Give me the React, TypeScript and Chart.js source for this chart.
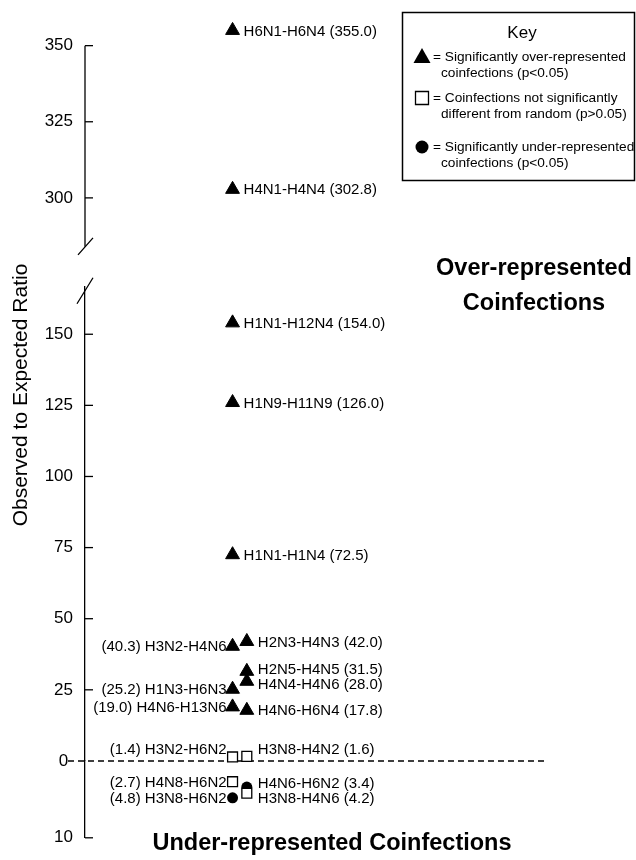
import React, { useEffect, useRef } from "react";
import { Chart, registerables } from "chart.js";

Chart.register(...registerables);

const FONT = '"Liberation Sans", Arial, Helvetica, sans-serif';

// ---- Axis ticks ----
const TOP_TICKS = [300, 325, 350];
const MID_TICKS = [0, 25, 50, 75, 100, 125, 150];
const BOTTOM_TICKS = [10];

// ---- Significantly over-represented coinfections (triangles) ----
const OVER_NAMES = [
  "H6N1-H6N4", "H4N1-H4N4", "H1N1-H12N4", "H1N9-H11N9", "H1N1-H1N4",
  "H3N2-H4N6", "H2N3-H4N3", "H2N5-H4N5", "H4N4-H4N6", "H1N3-H6N3",
  "H4N6-H13N6", "H4N6-H6N4",
];
const OVER_RATIOS = [355.0, 302.8, 154.0, 126.0, 72.5, 40.3, 42.0, 31.5, 28.0, 25.2, 19.0, 17.8];
const OVER_COLUMNS = [0, 0, 0, 0, 0, 0, 1, 1, 1, 0, 0, 1];
const OVER_SIDES = ["right", "right", "right", "right", "right", "left", "right", "right", "right", "left", "left", "right"];

// ---- Not significantly different from random (squares) ----
const NOT_SIG_NAMES = ["H3N2-H6N2", "H3N8-H4N2", "H4N8-H6N2", "H3N8-H4N6"];
const NOT_SIG_RATIOS = [1.4, 1.6, 2.7, 4.2];
const NOT_SIG_DIRECTION = ["over", "over", "under", "under"];
const NOT_SIG_COLUMNS = [0, 1, 0, 1];

// ---- Significantly under-represented coinfections (circles) ----
const UNDER_NAMES = ["H4N6-H6N2", "H3N8-H6N2"];
const UNDER_RATIOS = [3.4, 4.8];
const UNDER_COLUMNS = [1, 0];

const BREAK_AT = 200;
const TOP_AXIS_END = 350;

type Pt = { x: number; y: number; name: string; side: string };

function pts(names: string[], ratios: number[], cols: number[], sides: string[] | null, keep: (i: number) => boolean): Pt[] {
  const out: Pt[] = [];
  names.forEach((n, i) => {
    if (!keep(i)) return;
    out.push({ x: cols[i], y: ratios[i], name: n, side: sides ? sides[i] : cols[i] === 0 ? "left" : "right" });
  });
  return out;
}

const setTicks = (vals: number[]) => (scale: any) => {
  scale.ticks = vals.map((v) => ({ value: v }));
};

const AXIS_W = 85;

const decorPlugin = {
  id: "decor",
  beforeDatasetsDraw(chart: any) {
    const ctx = chart.ctx;
    const mid = chart.scales.yMid;
    const y0 = mid.getPixelForValue(0);
    ctx.save();
    ctx.strokeStyle = "#000";
    ctx.lineWidth = 1.4;
    ctx.setLineDash([6, 4]);
    ctx.beginPath();
    ctx.moveTo(mid.right - 17, y0);
    ctx.lineTo(547, y0);
    ctx.stroke();
    ctx.restore();
  },
  afterDraw(chart: any) {
    const ctx = chart.ctx;
    const { yTop, yMid, yBot } = chart.scales;
    const ax = yMid.right;
    ctx.save();
    ctx.strokeStyle = "#000";
    ctx.lineWidth = 1.3;
    // upper axis segment (ends at its top tick)
    ctx.beginPath();
    ctx.moveTo(ax, yTop.getPixelForValue(TOP_AXIS_END));
    ctx.lineTo(ax, yTop.bottom);
    ctx.stroke();
    // inner tick marks
    const drawTicks = (scale: any, vals: number[]) => {
      vals.forEach((v) => {
        if (scale === yMid && v === 0) return;
        const y = scale.getPixelForValue(v);
        ctx.beginPath();
        ctx.moveTo(ax, y);
        ctx.lineTo(ax + 8, y);
        ctx.stroke();
      });
    };
    drawTicks(yTop, TOP_TICKS);
    drawTicks(yMid, MID_TICKS);
    drawTicks(yBot, BOTTOM_TICKS);
    // axis break slashes
    ctx.beginPath();
    ctx.moveTo(ax - 7, yTop.bottom + 8);
    ctx.lineTo(ax + 8, yTop.bottom - 9);
    ctx.moveTo(ax - 8, yMid.top + 17);
    ctx.lineTo(ax + 8, yMid.top - 9);
    ctx.stroke();

    // y axis title
    ctx.fillStyle = "#000";
    ctx.save();
    ctx.translate(21, 395);
    ctx.rotate(-Math.PI / 2);
    ctx.font = `21px ${FONT}`;
    ctx.textAlign = "center";
    ctx.textBaseline = "middle";
    ctx.fillText("Observed to Expected Ratio", 0, 0);
    ctx.restore();

    // region titles
    ctx.font = `bold 23.5px ${FONT}`;
    ctx.textBaseline = "alphabetic";
    ctx.textAlign = "center";
    ctx.fillText("Over-represented", 534, 275);
    ctx.fillText("Coinfections", 534, 310);
    ctx.fillText("Under-represented Coinfections", 332, 850);

    // key
    ctx.lineWidth = 1.5;
    ctx.strokeRect(402.5, 12.5, 232, 168);
    ctx.font = `17px ${FONT}`;
    ctx.textAlign = "center";
    ctx.textBaseline = "middle";
    ctx.fillText("Key", 522, 33);
    const items = [
      { style: "triangle", y: 57, lines: ["= Significantly over-represented", "coinfections (p<0.05)"] },
      { style: "rect", y: 98, lines: ["= Coinfections not significantly", "different from random (p>0.05)"] },
      { style: "circle", y: 147, lines: ["= Significantly under-represented", "coinfections (p<0.05)"] },
    ];
    items.forEach((it) => {
      const cx = 422;
      ctx.beginPath();
      if (it.style === "triangle") {
        ctx.moveTo(cx, it.y - 9);
        ctx.lineTo(cx - 8.5, it.y + 6);
        ctx.lineTo(cx + 8.5, it.y + 6);
        ctx.closePath();
        ctx.fillStyle = "#000";
        ctx.fill();
      } else if (it.style === "rect") {
        ctx.fillStyle = "#fff";
        ctx.rect(cx - 6.5, it.y - 6.5, 13, 13);
        ctx.fill();
        ctx.lineWidth = 1.3;
        ctx.stroke();
      } else {
        ctx.arc(cx, it.y, 6.5, 0, Math.PI * 2);
        ctx.fillStyle = "#000";
        ctx.fill();
      }
      ctx.fillStyle = "#000";
      ctx.font = `13.7px ${FONT}`;
      ctx.textAlign = "left";
      ctx.fillText(it.lines[0], 433, it.y);
      ctx.fillText(it.lines[1], 441, it.y + 16);
    });
    ctx.restore();
  },
  afterDatasetsDraw(chart: any) {
    const ctx = chart.ctx;
    const y0 = chart.scales.yMid.getPixelForValue(0);
    type Lab = { x: number; y: number; text: string; align: string; lo: number; hi: number };
    const groups: Record<string, Lab[]> = {};
    chart.data.datasets.forEach((ds: any, i: number) => {
      const meta = chart.getDatasetMeta(i);
      const below = ds.yAxisID === "yBot";
      meta.data.forEach((el: any, j: number) => {
        const d = ds.data[j] as Pt;
        const val = d.y.toFixed(1);
        const lo = below ? y0 + 11 : -Infinity;
        const hi = below ? Infinity : y0 - 11;
        const lab: Lab =
          d.side === "right"
            ? { x: el.x + 11, y: el.y + 1, text: `${d.name} (${val})`, align: "left", lo, hi }
            : { x: el.x - 6, y: el.y + 1, text: `(${val}) ${d.name}`, align: "right", lo, hi };
        lab.y = Math.min(Math.max(lab.y, lab.lo), lab.hi);
        const key = lab.align + Math.round(lab.x);
        (groups[key] = groups[key] || []).push(lab);
      });
    });
    // keep neighbouring labels in a column from overlapping (and off the zero line)
    const MIN_GAP = 15;
    Object.values(groups).forEach((g) => {
      g.sort((a, b) => a.y - b.y);
      for (let it = 0; it < 40; it++) {
        let moved = false;
        for (let k = 1; k < g.length; k++) {
          const gap = g[k].y - g[k - 1].y;
          if (gap < MIN_GAP - 0.01) {
            const push = (MIN_GAP - gap) / 2;
            g[k - 1].y = Math.min(Math.max(g[k - 1].y - push, g[k - 1].lo), g[k - 1].hi);
            g[k].y = Math.min(Math.max(g[k].y + push, g[k].lo), g[k].hi);
            moved = true;
          }
        }
        if (!moved) break;
      }
    });
    ctx.save();
    ctx.font = `15px ${FONT}`;
    ctx.fillStyle = "#000";
    ctx.textBaseline = "middle";
    Object.values(groups).forEach((g) =>
      g.forEach((l) => {
        ctx.textAlign = l.align as CanvasTextAlign;
        ctx.fillText(l.text, l.x, l.y);
      })
    );
    ctx.restore();
  },
};

export default function App() {
  const ref = useRef<HTMLCanvasElement | null>(null);

  useEffect(() => {
    document.body.style.margin = "0";
    if (!ref.current) return;

    const yCommon = (weight: number, stackWeight: number, border = true) => ({
      type: "linear" as const,
      position: "left" as const,
      stack: "y",
      stackWeight,
      weight,
      grid: { display: false, drawTicks: false },
      border: { display: border, color: "#000", width: 1.3 },
      ticks: {
        padding: 12,
        color: "#000",
        font: { family: FONT, size: 17 },
        callback: (v: any) => (v === 0 ? "0 " : String(v)),
      },
      afterFit: (s: any) => {
        s.width = AXIS_W;
      },
    });

    const triangle = {
      pointStyle: "triangle",
      pointRadius: 8,
      pointHoverRadius: 8,
      backgroundColor: "#000",
      borderColor: "#000",
      borderWidth: 1,
      showLine: false,
      clip: false as any,
    };
    const square = {
      pointStyle: "rect",
      pointRadius: 7,
      pointHoverRadius: 7,
      backgroundColor: "#fff",
      borderColor: "#000",
      borderWidth: 1.3,
      showLine: false,
      clip: false as any,
    };
    const circle = {
      pointStyle: "circle",
      pointRadius: 5.5,
      pointHoverRadius: 5.5,
      backgroundColor: "#000",
      borderColor: "#000",
      borderWidth: 0,
      showLine: false,
      clip: false as any,
    };

    const chart = new Chart(ref.current, {
      type: "scatter",
      data: {
        datasets: [
          { ...triangle, yAxisID: "yTop", data: pts(OVER_NAMES, OVER_RATIOS, OVER_COLUMNS, OVER_SIDES, (i) => OVER_RATIOS[i] > BREAK_AT) },
          { ...triangle, yAxisID: "yMid", data: pts(OVER_NAMES, OVER_RATIOS, OVER_COLUMNS, OVER_SIDES, (i) => OVER_RATIOS[i] <= BREAK_AT) },
          { ...square, yAxisID: "yMid", data: pts(NOT_SIG_NAMES, NOT_SIG_RATIOS, NOT_SIG_COLUMNS, null, (i) => NOT_SIG_DIRECTION[i] === "over") },
          { ...square, yAxisID: "yBot", data: pts(NOT_SIG_NAMES, NOT_SIG_RATIOS, NOT_SIG_COLUMNS, null, (i) => NOT_SIG_DIRECTION[i] === "under") },
          { ...circle, yAxisID: "yBot", data: pts(UNDER_NAMES, UNDER_RATIOS, UNDER_COLUMNS, null, () => true) },
        ] as any,
      },
      options: {
        responsive: false,
        animation: false,
        events: [],
        layout: { padding: { top: 22, bottom: 21, left: 0, right: 0 } },
        plugins: { legend: { display: false }, tooltip: { enabled: false } },
        scales: {
          x: { type: "linear", display: false, min: -10.345, max: 27.655 },
          yTop: { ...yCommon(4, 225, false), min: 283.93, max: 357.7, afterBuildTicks: setTicks(TOP_TICKS) },
          yGap: { type: "linear", position: "left", stack: "y", stackWeight: 40, weight: 3, display: false, min: 0, max: 1 },
          yMid: { ...yCommon(2, 475), min: 0, max: 166.7, afterBuildTicks: setTicks(MID_TICKS) },
          yBot: { ...yCommon(1, 77), min: 0, max: 10, reverse: true, afterBuildTicks: setTicks(BOTTOM_TICKS) },
        } as any,
      },
      plugins: [decorPlugin as any],
    });
    return () => chart.destroy();
  }, []);

  return (
    <div style={{ width: 636, height: 860, background: "#fff" }}>
      <canvas ref={ref} width={636} height={860} style={{ display: "block" }} />
    </div>
  );
}
